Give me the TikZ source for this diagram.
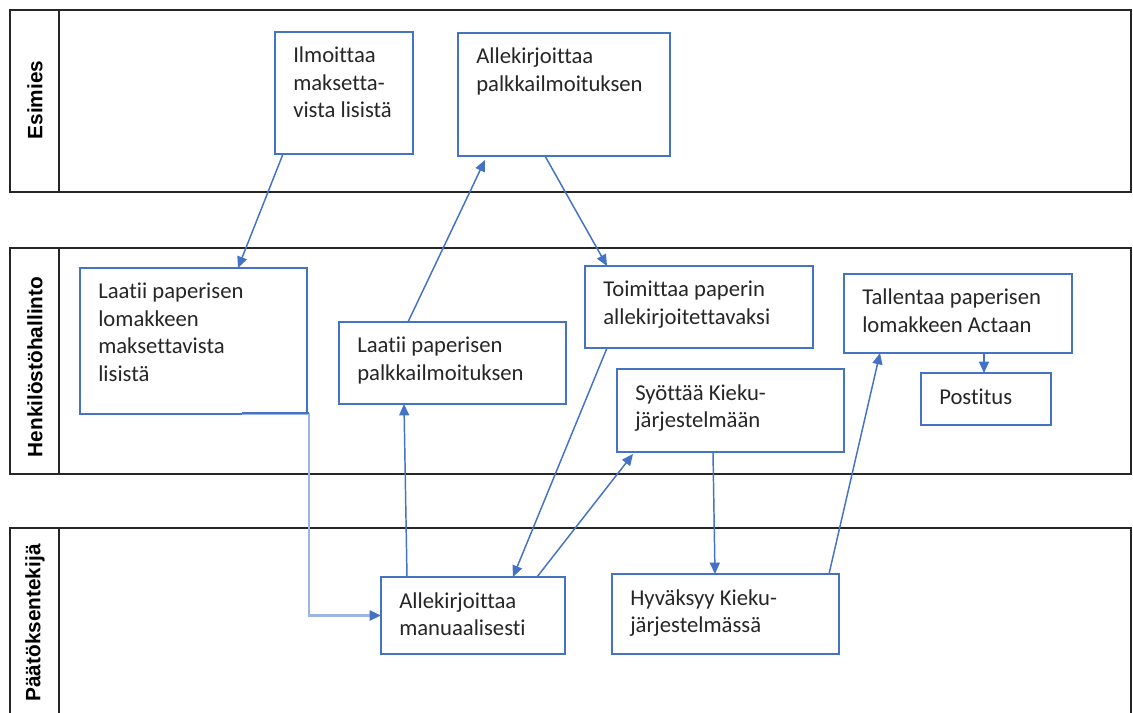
\documentclass[tikz,border=0pt]{standalone}
\usepackage{fontspec}
\setmainfont{Carlito}[Ligatures=NoCommon]
\newfontfamily\lanefont{Liberation Sans}
\usetikzlibrary{arrows.meta,calc}

\definecolor{flowblue}{HTML}{4472C4}
\definecolor{flowlight}{HTML}{9DB5E2}

% A process step: name, left, top, right, bottom (in px), text lines
\newcommand\flowstep[6]{%
  \node[stepbox, minimum width={(#4-#2)*0.75pt}, minimum height={(#5-#3)*0.75pt}] (#1) at (#2,#3) {};
  \node[steptext] (#1-text) at ($(#1.north west)+(18,31)$)
    {\begin{tabular}[t]{@{}l@{}}#6\end{tabular}};
}

\begin{document}
\begin{tikzpicture}[x=0.75pt, y=-0.75pt,
  lane/.style={draw=black!85, line width=0.95pt},
  lanelabel/.style={rotate=90, inner sep=0, text=black,
    font=\lanefont\bfseries\fontsize{15.6}{18}\selectfont},
  stepbox/.style={draw=flowblue, line width=1.1pt, fill=white,
    inner sep=0, outer sep=0, anchor=north west},
  steptext/.style={inner sep=0, anchor=base west, text=black!85,
    font=\fontsize{17}{20.6}\selectfont},
  flow/.style={draw=flowblue, line width=1.1pt,
    -{Triangle[length=8.5pt, width=7.5pt, color=flowblue]}},
]
\useasboundingbox (0,0) rectangle (1133,713);
\fill[white] (0,0) rectangle (1133,713);

% swimlanes
\draw[lane] (10,10) rectangle (1131,192);
\draw[lane] (59,10) -- (59,192);
\draw[lane] (10,248) rectangle (1131,474);
\draw[lane] (59,248) -- (59,474);
\draw[lane] (10,713) -- (10,528) -- (1131,528) -- (1131,713);
\draw[lane] (59,528) -- (59,713);

\node[lanelabel] (lane-esimies) at (35,100) {Esimies};
\node[lanelabel] (lane-henkilosto) at (35,367) {Henkilöstöhallinto};
\node[lanelabel] (lane-paatos) at (35,623) {Päätöksentekijä};

% process steps
\flowstep{ilm}{275}{32}{413}{154}{Ilmoittaa\\maksetta-\\vista lisistä}
\flowstep{alp}{458}{33}{670}{156}{Allekirjoittaa\\palkkailmoituksen}
\flowstep{lom}{80}{268}{307}{414}{Laatii paperisen\\lomakkeen\\maksettavista\\lisistä}
\flowstep{lpi}{339}{322}{566}{404}{Laatii paperisen\\palkkailmoituksen}
\flowstep{toi}{585}{266}{813}{348}{Toimittaa paperin\\allekirjoitettavaksi}
\flowstep{tal}{844}{274}{1072}{353}{Tallentaa paperisen\\lomakkeen Actaan}
\flowstep{pos}{921}{373}{1051}{425}{Postitus}
\flowstep{syo}{617}{369}{844}{452}{Syöttää Kieku-\\järjestelmään}
\flowstep{man}{381}{577}{565}{654}{Allekirjoittaa\\manuaalisesti}
\flowstep{hyv}{612}{574}{839}{654}{Hyväksyy Kieku-\\järjestelmässä}

% connectors
\draw[flow] ($(ilm.south west)+(8,0)$) -- ($(lom.north west)+(158,0)$);
\draw[flow, draw=flowlight, line width=1.7pt]
  ($(lom.south west)+(162,0)$) -- ($(lom.south east)+(2,0)$) |- (man.west);
\draw[flowblue, line width=1.8pt] ($(lom.south west)+(162,-1)$) -- ($(lom.south east)+(2,-1)$);
\draw[flow] ($(man.north west)+(26,0)$) -- ($(lpi.south west)+(65,0)$);
\draw[flow] ($(lpi.north west)+(69,0)$) -- ($(alp.south west)+(27,4)$);
\draw[flow] ($(alp.south west)+(87,0)$) -- ($(toi.north west)+(22,0)$);
\draw[flow] ($(toi.south west)+(22,0)$) -- ($(man.north west)+(132,0)$);
\draw[flow] ($(man.north west)+(156,0)$) -- ($(syo.south west)+(16,2)$);
\draw[flow] ($(syo.south west)+(96,0)$) -- ($(hyv.north west)+(103,0)$);
\draw[flow] ($(hyv.north west)+(217,0)$) -- ($(tal.south west)+(36,0)$);
\draw[flow] ($(tal.south west)+(140,0)$) -- ($(pos.north west)+(63,0)$);
\end{tikzpicture}
\end{document}
